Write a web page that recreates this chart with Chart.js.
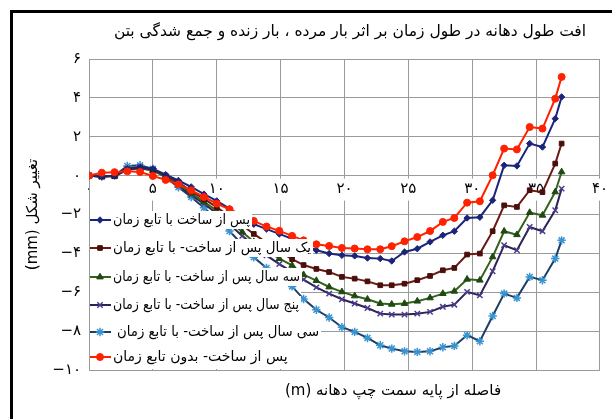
<!DOCTYPE html>
<html>
<head>
<meta charset="utf-8">
<script src="https://cdn.jsdelivr.net/npm/chart.js@4.4.0/dist/chart.umd.min.js"></script>
<style>
body { margin: 0; background: #fff; }
#wrap { position: relative; width: 612px; height: 419px; overflow: hidden; }
#frame { position: absolute; left: 10px; top: 10px; width: 700px; height: 500px; border-left: 3px solid #000; border-top: 3px solid #000; }
canvas { position: absolute; left: 0; top: 0; }
.txt { position: absolute; font-family: "DejaVu Sans", sans-serif; direction: rtl; white-space: nowrap; transform: translate(-50%, -50%); color: #000; }
</style>
</head>
<body>
<div id="wrap">
  <div id="frame"></div>
  <canvas id="chart" width="612" height="419"></canvas>
  <div class="txt" style="left:350px; top:31px; font-size:15.5px;">افت طول دهانه در طول زمان بر اثر بار مرده ، بار زنده و جمع شدگی بتن</div>
  <div class="txt" style="left:393px; top:390px; font-size:15px;">فاصله از پایه سمت چپ دهانه (m)</div>
</div>
<script>
// distance from left support (m)
const xs = [0, 1, 2, 3, 4, 5, 6, 7, 8, 9, 10, 11, 12, 12.9, 13.9, 14.9, 15.9, 16.8, 17.8, 18.8,
            19.8, 20.8, 21.8, 22.8, 23.7, 24.7, 25.7, 26.7, 27.7, 28.6, 29.6, 30.6, 31.6, 32.5, 33.5,
            34.5, 35.5, 36.5, 37.0];

// deflection (mm) for each case
const afterBuildTime = [0, -0.05, 0, 0.35, 0.42, 0.35, 0.05, -0.25, -0.58, -0.95, -1.3, -1.7, -2.15, -2.5,
  -2.75, -3.0, -3.25, -3.55, -3.84, -4.01, -4.10, -4.13, -4.24, -4.27, -4.39, -3.93, -3.76, -3.41, -3.07,
  -2.86, -2.18, -2.14, -1.27, 0.53, 0.50, 1.65, 1.47, 2.93, 4.05];
const oneYear = [0, -0.05, -0.02, 0.3, 0.4, 0.3, 0, -0.35, -0.8, -1.2, -1.62, -2.1, -2.55, -3.0, -3.45,
  -3.9, -4.3, -4.6, -4.8, -4.96, -5.21, -5.30, -5.44, -5.64, -5.64, -5.56, -5.38, -5.16, -4.87, -4.75,
  -4.06, -4.01, -2.86, -1.53, -1.61, -0.75, -0.85, 0.62, 1.65];
const threeYears = [0, -0.05, -0.02, 0.3, 0.38, 0.25, -0.05, -0.45, -0.9, -1.35, -1.8, -2.35, -2.9, -3.4,
  -3.85, -4.27, -4.62, -5.1, -5.4, -5.73, -5.98, -6.19, -6.36, -6.58, -6.62, -6.58, -6.46, -6.29, -6.07,
  -5.95, -5.33, -5.38, -4.18, -2.86, -3.04, -1.90, -2.04, -0.84, 0.19];
const fiveYears = [0, -0.05, -0.02, 0.35, 0.45, 0.3, -0.05, -0.5, -1.0, -1.45, -1.95, -2.5, -3.1, -3.6,
  -4.1, -4.55, -4.95, -5.35, -5.75, -6.07, -6.36, -6.58, -6.81, -7.10, -7.15, -7.15, -7.10, -7.01, -6.75,
  -6.64, -5.98, -6.16, -4.92, -3.58, -3.84, -2.64, -2.86, -1.78, -0.67];
const thirtyYears = [0, -0.05, 0, 0.5, 0.53, 0.35, -0.1, -0.6, -1.1, -1.65, -2.25, -2.85, -3.55, -4.2,
  -4.75, -5.25, -5.7, -6.35, -6.9, -7.3, -7.8, -8.04, -8.35, -8.73, -8.90, -9.04, -9.07, -9.04, -8.83,
  -8.76, -8.21, -8.52, -7.22, -6.07, -6.29, -5.21, -5.38, -4.27, -3.33];
const noTime = [0, 0.15, 0.18, 0.22, 0.19, -0.02, -0.22, -0.45, -0.76, -1.1, -1.44, -1.73, -2.05, -2.33,
  -2.62, -2.84, -3.1, -3.33, -3.53, -3.62, -3.72, -3.75, -3.79, -3.79, -3.63, -3.38, -3.16, -2.85, -2.38,
  -2.18, -1.39, -1.32, 0.02, 1.39, 1.35, 2.5, 2.42, 3.96, 5.08];

const seriesNames = [
  'پس از ساخت با تابع زمان',
  'یک سال پس از ساخت- با تابع زمان',
  'سه سال پس از ساخت- با تابع زمان',
  'پنج سال پس از ساخت- با تابع زمان',
  'سی سال پس از ساخت- با تابع زمان',
  'پس از ساخت- بدون تابع زمان'
];
const xTicks = [0, 5, 10, 15, 20, 25, 30, 35, 40];
const yTicks = [-10, -8, -6, -4, -2, 0, 2, 4, 6];

// Persian digits for tick labels
function fa(v) {
  return String(v).replace('-', '\u2212').replace(/\d/g, d => '۰۱۲۳۴۵۶۷۸۹'[d]);
}

function makeSet(label, values, line, marker, style, radius, order) {
  const open = style === 'crossRot' || style === 'star';
  return {
    label: label,
    data: xs.map((x, i) => ({x: x, y: values[i]})),
    borderColor: line,
    borderWidth: 2,
    pointStyle: style,
    pointRadius: radius,
    pointBackgroundColor: marker,
    pointBorderColor: marker,
    pointBorderWidth: open ? 1.5 : 1,
    tension: 0,
    order: order
  };
}

const datasets = [
  makeSet(seriesNames[0], afterBuildTime, '#1A2478', '#1A2478', 'rectRot', 3.2, 1),
  makeSet(seriesNames[1], oneYear, '#6A1A14', '#4A0F0C', 'rect', 3.3, 2),
  makeSet(seriesNames[2], threeYears, '#33621C', '#1E4A10', 'triangle', 3.8, 3),
  makeSet(seriesNames[3], fiveYears, '#2A2458', '#4C3C8C', 'crossRot', 3.8, 4),
  makeSet(seriesNames[4], thirtyYears, '#1C3D66', '#3A94D0', 'star', 4.2, 5),
  makeSet(seriesNames[5], noTime, '#FF2200', '#FF2200', 'circle', 3.5, 0)
];

// legend rows sit inside the plot with white boxes behind them
const legendRowY = [220, 248, 277, 305, 332, 357];
const legendRowRight = [252, 313, 302, 301, 321, 292];
const legendTextX = [113, 113, 113, 113, 117, 113];
const gridHideEdges = [211, 234, 262, 291, 318, 345, 369];

const legendBoxes = {
  id: 'legendBoxes',
  beforeDatasetsDraw(chart) {
    const ctx = chart.ctx;
    ctx.save();
    ctx.fillStyle = '#fff';
    legendRowY.forEach((cy, i) => {
      ctx.fillRect(90, gridHideEdges[i], legendRowRight[i] - 90, gridHideEdges[i + 1] - gridHideEdges[i]);
    });
    ctx.restore();
  },
  afterDatasetsDraw(chart) {
    const ctx = chart.ctx;
    ctx.save();
    legendRowY.forEach((cy, i) => {
      const d = chart.data.datasets[i];
      ctx.fillStyle = '#fff';
      ctx.fillRect(90, cy - 9, legendRowRight[i] - 90, 18);
      ctx.strokeStyle = d.borderColor;
      ctx.lineWidth = 2;
      ctx.beginPath();
      ctx.moveTo(90, cy);
      ctx.lineTo(111, cy);
      ctx.stroke();
      ctx.fillStyle = d.pointBackgroundColor;
      ctx.strokeStyle = d.pointBorderColor;
      ctx.lineWidth = d.pointBorderWidth;
      Chart.helpers.drawPoint(ctx, {pointStyle: d.pointStyle, radius: d.pointRadius, borderWidth: d.pointBorderWidth, rotation: 0}, 100, cy);
      ctx.fillStyle = '#000';
      ctx.font = '14px "DejaVu Sans", sans-serif';
      ctx.textAlign = 'left';
      ctx.textBaseline = 'middle';
      ctx.fillText(seriesNames[i], legendTextX[i], cy, legendRowRight[i] - 2 - legendTextX[i]);
    });
    ctx.restore();
  }
};

Chart.defaults.font.family = '"DejaVu Sans", sans-serif';
Chart.defaults.color = '#000';

new Chart(document.getElementById('chart'), {
  type: 'line',
  data: { datasets: datasets },
  options: {
    responsive: false,
    animation: false,
    events: [],
    devicePixelRatio: 1,
    layout: { autoPadding: false, padding: { left: 0, top: 59, right: 12, bottom: 49 } },
    plugins: { legend: { display: false }, title: { display: false }, tooltip: { enabled: false } },
    scales: {
      x: {
        type: 'linear', position: { y: 0 }, min: 0, max: 40,
        afterBuildTicks(s) { s.ticks = xTicks.map(v => ({value: v})); },
        grid: { color: '#9A9A9A', drawTicks: false },
        border: { display: false },
        ticks: { display: false }
      },
      xl: {
        type: 'linear', position: { y: 0 }, min: 0, max: 40, z: 1,
        afterBuildTicks(s) { s.ticks = xTicks.map(v => ({value: v})); },
        grid: { display: false, drawTicks: false },
        border: { display: false },
        ticks: {
          callback: v => fa(v), font: { size: 15 }, padding: 4, maxRotation: 0, autoSkip: false,
          showLabelBackdrop: true, backdropColor: '#fff', backdropPadding: { top: 1, bottom: 3, left: 3, right: 3 }
        }
      },
      y: {
        type: 'linear', position: 'left', min: -10, max: 6,
        afterBuildTicks(s) { s.ticks = yTicks.map(v => ({value: v})); },
        afterFit(s) { s.width = 89; },
        grid: { color: '#9A9A9A', drawTicks: false },
        border: { color: '#9A9A9A' },
        ticks: { callback: v => fa(v), font: { size: 15 }, padding: 8 },
        title: { display: true, text: '\u202Bتغییر شکل (mm)\u202C', font: { size: 15 }, padding: { top: 24, bottom: 0 } }
      }
    }
  },
  plugins: [legendBoxes]
});
</script>
</body>
</html>
